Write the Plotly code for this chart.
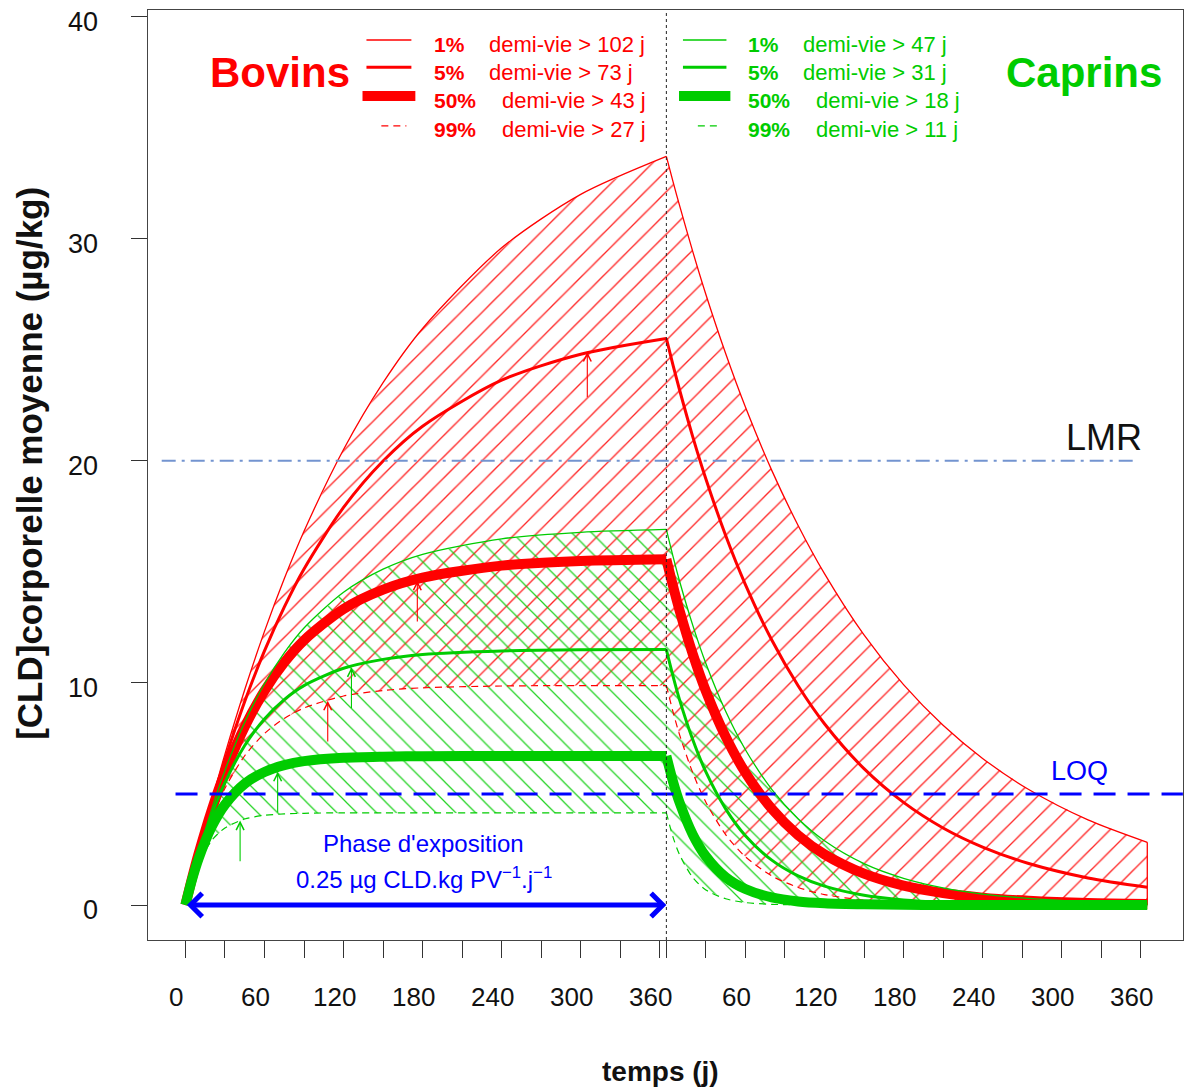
import plotly.graph_objects as go

# ---------------- data ----------------
# time grid (days) : exposure phase then depuration phase
t_acc = [0, 5, 10, 20, 30, 45, 60, 75, 90, 120, 150, 180, 240, 300, 365]
t_dep = [365, 370, 375, 385, 395, 410, 425, 445, 465, 485, 515, 545, 575, 605, 640, 685, 730]

# Bovins (red) percentiles 1 %, 5 %, 50 %, 99 %
b1_acc = [0, 1.23, 2.42, 4.68, 6.79, 9.69, 12.32, 14.69, 16.83, 20.51, 23.52, 25.96, 29.59, 32.00, 33.71]
b1_dep = [33.71, 32.58, 31.50, 29.43, 27.49, 24.83, 22.42, 19.57, 17.09, 14.92, 12.16, 9.92, 8.09, 6.60, 5.20, 3.83, 2.82]
b5_acc = [0, 1.22, 2.39, 4.55, 6.53, 9.16, 11.44, 13.41, 15.13, 17.90, 19.99, 21.56, 23.63, 24.80, 25.51]
b5_dep = [25.51, 24.32, 23.20, 21.09, 19.18, 16.64, 14.43, 11.93, 9.87, 8.16, 6.14, 4.62, 3.47, 2.61, 1.87, 1.22, 0.80]
b50_acc = [0, 1.20, 2.31, 4.28, 5.96, 8.02, 9.64, 10.92, 11.92, 13.33, 14.20, 14.74, 15.28, 15.49, 15.57]
b50_dep = [15.57, 14.37, 13.27, 11.31, 9.63, 7.58, 5.96, 4.33, 3.14, 2.28, 1.41, 0.87, 0.54, 0.33, 0.19, 0.09, 0.05]
b99_acc = [0, 1.17, 2.21, 3.92, 5.26, 6.72, 7.72, 8.40, 8.87, 9.41, 9.66, 9.78, 9.86, 9.88, 9.88]
b99_dep = [9.88, 8.71, 7.67, 5.96, 4.63, 3.17, 2.17, 1.31, 0.79, 0.47, 0.22, 0.10, 0.05, 0.02, 0.01, 0.00, 0.00]

# Caprins (green) percentiles 1 %, 5 %, 50 %, 99 %
c1_acc = [0, 1.21, 2.33, 4.33, 6.06, 8.23, 9.96, 11.35, 12.47, 14.08, 15.12, 15.79, 16.49, 16.78, 16.91]
c1_dep = [16.91, 15.71, 14.59, 12.60, 10.87, 8.72, 6.99, 5.21, 3.88, 2.89, 1.86, 1.20, 0.77, 0.49, 0.30, 0.15, 0.08]
c5_acc = [0, 1.18, 2.25, 4.06, 5.51, 7.18, 8.38, 9.25, 9.88, 10.66, 11.06, 11.28, 11.44, 11.49, 11.50]
c5_dep = [11.50, 10.32, 9.25, 7.45, 5.99, 4.33, 3.12, 2.02, 1.31, 0.85, 0.44, 0.23, 0.12, 0.06, 0.03, 0.01, 0.00]
c50_acc = [0, 1.14, 2.09, 3.53, 4.52, 5.46, 5.99, 6.30, 6.48, 6.63, 6.68, 6.70, 6.71, 6.71, 6.71]
c50_dep = [6.71, 5.57, 4.62, 3.18, 2.19, 1.25, 0.72, 0.34, 0.16, 0.08, 0.03, 0.01, 0.00, 0.00, 0.00, 0.00, 0.00]
c99_acc = [0, 1.08, 1.88, 2.91, 3.47, 3.87, 4.04, 4.10, 4.13, 4.15, 4.15, 4.15, 4.15, 4.15, 4.15]
c99_dep = [4.15, 3.07, 2.27, 1.24, 0.68, 0.28, 0.11, 0.03, 0.01, 0.00, 0.00, 0.00, 0.00, 0.00, 0.00, 0.00, 0.00]

# small arrows (time, base value, tip value)
red_arrow_t = [108, 176, 305]
red_arrow_y0 = [7.3, 12.7, 22.8]
red_arrow_y1 = [9.2, 14.6, 24.9]
green_arrow_t = [41.5, 70, 126]
green_arrow_y0 = [1.9, 4.1, 8.8]
green_arrow_y1 = [3.8, 6.0, 10.7]

# reference levels
LMR = 20
LOQ = 5
exposure_end = 365

# axis ticks and labels
x_ticks = [0, 30, 60, 90, 120, 150, 180, 210, 240, 270, 300, 330, 360, 365,
           395, 425, 455, 485, 515, 545, 575, 605, 635, 665, 695, 725]
x_label_pos = [0, 60, 120, 180, 240, 300, 360, 425, 485, 545, 605, 665, 725]
x_labels = ["0", "60", "120", "180", "240", "300", "360", "60", "120", "180", "240", "300", "360"]
y_ticks = [0, 10, 20, 30, 40]
y_labels = ["0", "10", "20", "30", "40"]

# legend texts
pcts = ["1%", "5%", "50%", "99%"]
bov_hl = ["demi-vie > 102 j", "demi-vie > 73 j", "demi-vie > 43 j", "demi-vie > 27 j"]
cap_hl = ["demi-vie > 47 j", "demi-vie > 31 j", "demi-vie > 18 j", "demi-vie > 11 j"]

# ---------------- styling ----------------
RED = "#ff0000"
GREEN = "#00cc00"
BLUE = "#0000ff"
FONT = "Liberation Sans, Arial, sans-serif"
widths = [1.3, 3, 10, 1.2]
dashes = ["solid", "solid", "solid", "7px,5px"]

fig = go.Figure()

# hatched envelopes (1 % .. 99 %)
t_all = t_acc + t_dep[1:]
b_up = b1_acc + b1_dep[1:]
b_lo = b99_acc + b99_dep[1:]
c_up = c1_acc + c1_dep[1:]
c_lo = c99_acc + c99_dep[1:]

fig.add_trace(go.Scatter(
    x=t_all + t_all[::-1], y=b_up + b_lo[::-1], mode="lines", fill="toself",
    line=dict(width=0, color="rgba(0,0,0,0)"), fillcolor="rgba(0,0,0,0)",
    fillpattern=dict(shape="/", fgcolor="rgba(255,0,0,0.85)", bgcolor="rgba(0,0,0,0)",
                     size=15, solidity=0.09, fillmode="replace"),
    hoverinfo="skip", showlegend=False))
fig.add_trace(go.Scatter(
    x=t_all + t_all[::-1], y=c_up + c_lo[::-1], mode="lines", fill="toself",
    line=dict(width=0, color="rgba(0,0,0,0)"), fillcolor="rgba(0,0,0,0)",
    fillpattern=dict(shape="\\", fgcolor="rgba(0,204,0,0.85)", bgcolor="rgba(0,0,0,0)",
                     size=14, solidity=0.09, fillmode="replace"),
    hoverinfo="skip", showlegend=False))

def add_curve(acc, dep, color, w, dash):
    for tt, yy in ((t_acc, acc), (t_dep, dep)):
        fig.add_trace(go.Scatter(x=tt, y=yy, mode="lines",
                                 line=dict(color=color, width=w, dash=dash, shape="spline", smoothing=0.8),
                                 hoverinfo="skip", showlegend=False))

red_sets = [(b1_acc, b1_dep), (b5_acc, b5_dep), (b50_acc, b50_dep), (b99_acc, b99_dep)]
green_sets = [(c1_acc, c1_dep), (c5_acc, c5_dep), (c50_acc, c50_dep), (c99_acc, c99_dep)]

for (a, d), w, ds in zip(red_sets, widths, dashes):
    add_curve(a, d, RED, w, ds)
# closing edge of the red envelope at the last day
fig.add_trace(go.Scatter(x=[t_dep[-1], t_dep[-1]], y=[b1_dep[-1], b99_dep[-1]], mode="lines",
                         line=dict(color=RED, width=1.3), hoverinfo="skip", showlegend=False))
for (a, d), w, ds in zip(green_sets, widths, dashes):
    add_curve(a, d, GREEN, w, ds)

shapes = []
# reference lines
shapes.append(dict(type="line", xref="x", yref="y", x0=-18, x1=723, y0=LMR, y1=LMR,
                   line=dict(color="#7394d0", width=2, dash="14px,6px,3px,6px"), layer="above"))
shapes.append(dict(type="line", xref="x", yref="y", x0=-7.5, x1=757, y0=LOQ, y1=LOQ,
                   line=dict(color=BLUE, width=3, dash="22px,12px"), layer="above"))
shapes.append(dict(type="line", xref="x", yref="paper", x0=exposure_end, x1=exposure_end, y0=0, y1=1,
                   line=dict(color="#222222", width=1, dash="dot"), layer="above"))

# legend samples
leg_y = [38.95, 37.72, 36.43, 35.08]
txt_y = [38.74, 37.48, 36.22, 34.91]
for i in range(4):
    for col, xs in ((RED, (137.4, 171.5)), (GREEN, (377.6, 410.6))):
        x0, x1 = xs
        if i == 2:
            x0, x1 = x0 - 3, x1 + 3
        if i == 3:
            x0, x1 = x0 + 11.3, x1 - 3.8
        shapes.append(dict(type="line", xref="x", yref="y", x0=x0, x1=x1, y0=leg_y[i], y1=leg_y[i],
                           line=dict(color=col, width=widths[i] if i < 3 else 1.2, dash=dashes[i]),
                           layer="above"))

ann = []
for i in range(4):
    ann.append(dict(x=187.4, y=txt_y[i], text="<b>%s</b>" % pcts[i], xanchor="left", yanchor="middle",
                    showarrow=False, font=dict(family=FONT, size=21, color=RED)))
    ann.append(dict(x=229.2 if i < 2 else 238.5, y=txt_y[i], text=bov_hl[i], xanchor="left", yanchor="middle",
                    showarrow=False, font=dict(family=FONT, size=22, color=RED)))
    ann.append(dict(x=425.2, y=txt_y[i], text="<b>%s</b>" % pcts[i], xanchor="left", yanchor="middle",
                    showarrow=False, font=dict(family=FONT, size=21, color=GREEN)))
    ann.append(dict(x=467.5 if i < 2 else 477.0, y=txt_y[i], text=cap_hl[i], xanchor="left", yanchor="middle",
                    showarrow=False, font=dict(family=FONT, size=22, color=GREEN)))

ann.append(dict(x=71.6, y=37.5, text="<b>Bovins</b>", showarrow=False,
                font=dict(family=FONT, size=42, color=RED)))
ann.append(dict(x=681.7, y=37.5, text="<b>Caprins</b>", showarrow=False,
                font=dict(family=FONT, size=42, color=GREEN)))
ann.append(dict(x=697, y=21.07, text="LMR", showarrow=False,
                font=dict(family=FONT, size=36, color="#111111")))
ann.append(dict(x=678.7, y=6.03, text="LOQ", showarrow=False,
                font=dict(family=FONT, size=27, color=BLUE)))
ann.append(dict(x=180.9, y=2.79, text="Phase d'exposition", showarrow=False,
                font=dict(family=FONT, size=24, color=BLUE)))
ann.append(dict(x=180.9, y=1.2, text="0.25 µg CLD.kg PV<sup>−1</sup>.j<sup>−1</sup>", showarrow=False,
                font=dict(family=FONT, size=24, color=BLUE)))

# exposure double arrow
ann.append(dict(x=exposure_end, y=0, ax=0, ay=0, xref="x", yref="y", axref="x", ayref="y",
                text="", showarrow=True, arrowside="end+start", arrowhead=4, startarrowhead=4,
                arrowsize=0.9, startarrowsize=0.9, arrowwidth=5, arrowcolor=BLUE,
                standoff=0, startstandoff=0))

# small arrows
for ts, y0s, y1s, col in ((red_arrow_t, red_arrow_y0, red_arrow_y1, RED),
                          (green_arrow_t, green_arrow_y0, green_arrow_y1, GREEN)):
    for t, y0, y1 in zip(ts, y0s, y1s):
        ann.append(dict(x=t, y=y1, ax=t, ay=y0, xref="x", yref="y", axref="x", ayref="y",
                        text="", showarrow=True, arrowhead=5, arrowsize=1.4, arrowwidth=1.1,
                        arrowcolor=col, standoff=0))

# y tick labels
for v, lab in zip(y_ticks, y_labels):
    ann.append(dict(xref="paper", yref="y", x=-0.0467, y=v, yshift=-5, text=lab, showarrow=False,
                    xanchor="right", yanchor="middle", font=dict(family=FONT, size=27, color="#111111")))
# x tick labels
for v, lab in zip(x_label_pos, x_labels):
    ann.append(dict(xref="x", yref="paper", x=v, y=-0.0613, xshift=-9, text=lab, showarrow=False,
                    xanchor="center", yanchor="middle", font=dict(family=FONT, size=26, color="#111111")))

# axis titles
ann.append(dict(xref="paper", yref="paper", x=-0.114, y=0.512, xanchor="center", yanchor="middle",
                text="<b>[CLD]corporelle moyenne (µg/kg)</b>",
                textangle=-90, showarrow=False, font=dict(family=FONT, size=35, color="#111111")))
ann.append(dict(xref="paper", yref="paper", x=0.4947, y=-0.1419, xanchor="center", yanchor="middle",
                text="<b>temps (j)</b>",
                showarrow=False, font=dict(family=FONT, size=28, color="#111111")))

fig.update_layout(
    width=1186, height=1090, autosize=False,
    margin=dict(l=148, r=3, t=10, b=150, pad=0),
    paper_bgcolor="white", plot_bgcolor="white",
    shapes=shapes, annotations=ann, showlegend=False,
    xaxis=dict(range=[-28.4, 757.1], tickmode="array", tickvals=x_ticks, showticklabels=False,
               ticks="outside", ticklen=17, tickcolor="#333333", tickwidth=1.3,
               showgrid=False, zeroline=False, showline=True, mirror=True, linecolor="#444444", linewidth=1.3),
    yaxis=dict(range=[-1.576, 40.3], tickmode="array", tickvals=y_ticks, showticklabels=False,
               ticks="outside", ticklen=16, tickcolor="#333333", tickwidth=1.3,
               showgrid=False, zeroline=False, showline=True, mirror=True, linecolor="#444444", linewidth=1.3),
)

fig.write_html("out.html", config={"displayModeBar": False},
               post_script="document.body.style.margin='0';")
